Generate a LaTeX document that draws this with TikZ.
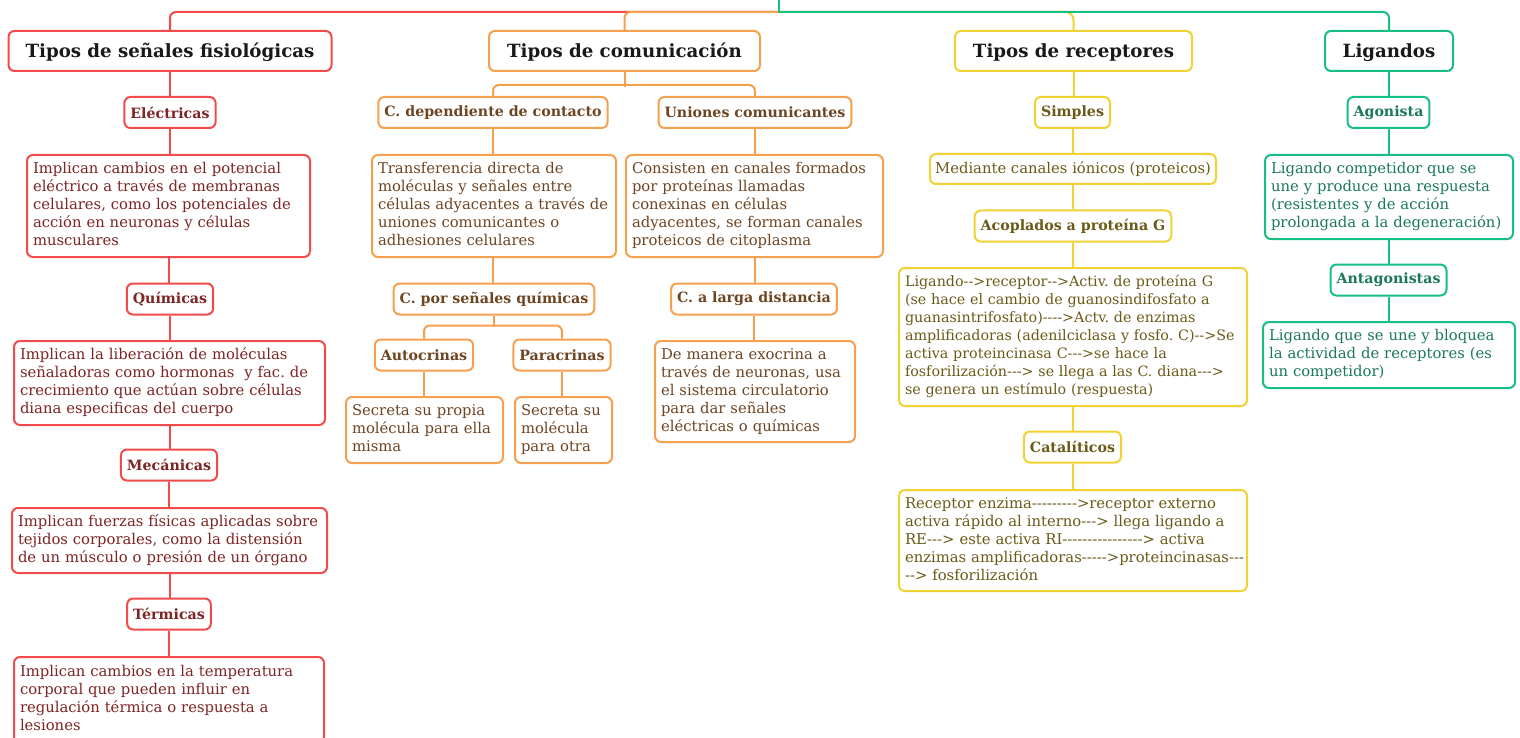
\documentclass[tikz,border=0pt]{standalone}
\usepackage{fontspec}
\setmainfont{DejaVu Serif}[Ligatures=TeXOff]
\usetikzlibrary{backgrounds}
\frenchspacing
\definecolor{rB}{HTML}{F24B4B}
\definecolor{rT}{HTML}{7D2424}
\definecolor{oB}{HTML}{F5A04E}
\definecolor{oT}{HTML}{6E4522}
\definecolor{yB}{HTML}{F0D232}
\definecolor{yT}{HTML}{6B5A17}
\definecolor{gB}{HTML}{17C081}
\definecolor{gT}{HTML}{1B7A55}
\newcommand\TT[1]{\begin{tabular}{@{}l@{}}#1\end{tabular}}
\begin{document}
\begin{tikzpicture}[x=1pt,y=-1pt,
  box/.style={draw, line width=2pt, rounded corners=6pt, fill=white},
  title/.style={box, font=\fontsize{18.2}{22}\selectfont\bfseries, text=black!90, minimum height=40pt, text depth=1pt},
  lab/.style={box, font=\fontsize{14.2}{17}\selectfont\bfseries, minimum height=31pt, inner xsep=6pt},
  txt/.style={box, font=\fontsize{14.8}{18}\selectfont, align=left, inner xsep=6pt, inner ysep=4pt, anchor=north west},
  cR/.style={draw=rB, text=rT},
  cO/.style={draw=oB, text=oT},
  cY/.style={draw=yB, text=yT},
  cG/.style={draw=gB, text=gT},
  conn/.style={line width=2pt, rounded corners=6pt}
]
\useasboundingbox (0,0) rectangle (1520,738);

\coordinate (root) at (779,0);
\coordinate (j) at (779,12);

% ---------- nodes column 1 ----------
\node[title, draw=rB, minimum width=323pt] (ts) at (170,51) {Tipos de señales fisiológicas};
\node[lab, cR] (e1) at (170,112.5) {Eléctricas};
\node[txt, cR, text width=271pt, minimum height=102pt] (e2) at (26,154) {\TT{Implican cambios en el potencial\\ eléctrico a través de membranas\\ celulares, como los potenciales de\\ acción en neuronas y células\\ musculares}};
\node[lab, cR] (q1) at (170,299) {Químicas};
\node[txt, cR, text width=299pt, minimum height=84pt] (q2) at (13,340) {\TT{Implican la liberación de moléculas\\ señaladoras como hormonas\ \ y fac. de\\ crecimiento que actúan sobre células\\ diana especificas del cuerpo}};
\node[lab, cR] (m1) at (169,465) {Mecánicas};
\node[txt, cR, text width=303pt, minimum height=65pt] (m2) at (11,507) {\TT{Implican fuerzas físicas aplicadas sobre\\ tejidos corporales, como la distensión\\ de un músculo o presión de un órgano}};
\node[lab, cR] (t1) at (169,614) {Térmicas};
\node[txt, cR, text width=298pt, minimum height=86pt] (t2) at (13,656) {\TT{Implican cambios en la temperatura\\ corporal que pueden influir en\\ regulación térmica o respuesta a\\ lesiones}};

% ---------- nodes column 2 ----------
\node[title, draw=oB, minimum width=271pt] (tc) at (624.5,51) {Tipos de comunicación};
\node[lab, cO] (cd) at (493,112.5) {C. dependiente de contacto};
\node[lab, cO] (uc) at (755,112.5) {Uniones comunicantes};
\node[txt, cO, text width=232pt, minimum height=102pt] (cd2) at (371,154) {\TT{Transferencia directa de\\ moléculas y señales entre\\ células adyacentes a través de\\ uniones comunicantes o\\ adhesiones celulares}};
\node[txt, cO, text width=245pt, minimum height=102pt] (uc2) at (625,154) {\TT{Consisten en canales formados\\ por proteínas llamadas\\ conexinas en células\\ adyacentes, se forman canales\\ proteicos de citoplasma}};
\node[lab, cO] (cq) at (494,299) {C. por señales químicas};
\node[lab, cO] (cl) at (754,299) {C. a larga distancia};
\node[lab, cO] (au) at (424,355) {Autocrinas};
\node[lab, cO] (pa) at (562,355) {Paracrinas};
\node[txt, cO, text width=145pt, minimum height=66pt] (au2) at (345,396) {\TT{Secreta su propia\\ molécula para ella\\ misma}};
\node[txt, cO, text width=85pt, minimum height=66pt] (pa2) at (514,396) {\TT{Secreta su\\ molécula\\ para otra}};
\node[txt, cO, text width=188pt, minimum height=101pt] (cl2) at (654,340) {\TT{De manera exocrina a\\ través de neuronas, usa\\ el sistema circulatorio\\ para dar señales\\ eléctricas o químicas}};

% ---------- nodes column 3 ----------
\node[title, draw=yB, minimum width=237pt] (tr) at (1073.5,51) {Tipos de receptores};
\node[lab, cY] (si) at (1072.5,112.5) {Simples};
\node[box, cY, font=\fontsize{14.8}{18}\selectfont, minimum width=286pt, minimum height=30pt, inner xsep=5pt] (si2) at (1073,169) {Mediante canales iónicos (proteicos)};
\node[lab, cY] (ac) at (1073,226) {Acoplados a proteína G};
\node[txt, cY, font=\fontsize{14.3}{18}\selectfont, text width=336pt, minimum height=138pt] (ac2) at (898,267) {\TT{Ligando-->receptor-->Activ. de proteína G\\ (se hace el cambio de guanosindifosfato a\\ guanasintrifosfato)---->Actv. de enzimas\\ amplificadoras (adenilciclasa y fosfo. C)-->Se\\ activa proteincinasa C--->se hace la\\ fosforilización---> se llega a las C. diana--->\\ se genera un estímulo (respuesta)}};
\node[lab, cY] (ca) at (1072.5,447) {Catalíticos};
\node[txt, cY, text width=336pt, minimum height=101pt] (ca2) at (898,489) {\TT{Receptor enzima--------->receptor externo\\ activa rápido al interno---> llega ligando a\\ RE---> este activa RI----------------> activa\\ enzimas amplificadoras----->proteincinasas---\\ --> fosforilización}};

% ---------- nodes column 4 ----------
\node[title, draw=gB, minimum width=128pt] (li) at (1389,51) {Ligandos};
\node[lab, cG] (ag) at (1388.5,112.5) {Agonista};
\node[txt, cG, text width=236pt, minimum height=84pt] (ag2) at (1264,154) {\TT{Ligando competidor que se\\ une y produce una respuesta\\ (resistentes y de acción\\ prolongada a la degeneración)}};
\node[lab, cG] (an) at (1388.5,280) {Antagonistas};
\node[txt, cG, text width=240pt, minimum height=66pt] (an2) at (1262,321) {\TT{Ligando que se une y bloquea\\ la actividad de receptores (es\\ un competidor)}};

% ---------- connectors (behind nodes) ----------
\begin{scope}[on background layer]
\fill[white] (0,0) rectangle (1520,738);
% top tree
\draw[conn, rB] (j) -| (ts.north);
\draw[conn, oB] (j) -| (tc.north);
\draw[conn, yB, rounded corners=8pt] (j) -| (tr.north);
\draw[conn, gB, rounded corners=0pt] (root) -- (j);
\draw[conn, gB] (j) -| (li.north);
% column 1
\foreach \a/\b in {ts/e1,e1/e2,e2/q1,q1/q2,q2/m1,m1/m2,m2/t1,t1/t2}
  \draw[conn, rB] (\a.south) -- (\a.south |- \b.north);
% column 2
\draw[conn, oB] (tc.south) -- ++(0,15);
\draw[conn, oB] (cd.north) -- ++(0,-11) -| (uc.north);
\draw[conn, oB] (cd.south) -- (cd.south |- cd2.north);
\draw[conn, oB] (uc.south) -- (uc.south |- uc2.north);
\draw[conn, oB] (cd.south |- cd2.south) -- (cd.south |- cq.north);
\draw[conn, oB] (uc.south |- uc2.south) -- (uc.south |- cl.north);
\draw[conn, oB] (cq.south) -- ++(0,11.5);
\draw[conn, oB] (au.north) -- ++(0,-13) -| (pa.north);
\draw[conn, oB] (au.south) -- (au.south |- au2.north);
\draw[conn, oB] (pa.south) -- (pa.south |- pa2.north);
\draw[conn, oB] (cl.south) -- (cl.south |- cl2.north);
% column 3
\foreach \a/\b in {tr/si,si/si2,si2/ac,ac/ac2,ac2/ca,ca/ca2}
  \draw[conn, yB] (\a.south) -- (\a.south |- \b.north);
% column 4
\foreach \a/\b in {li/ag,ag/ag2,ag2/an,an/an2}
  \draw[conn, gB] (\a.south) -- (\a.south |- \b.north);
\end{scope}

\end{tikzpicture}
\end{document}
